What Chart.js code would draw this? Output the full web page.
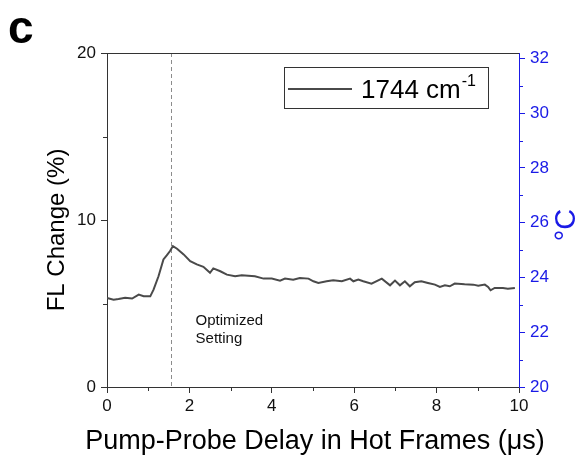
<!DOCTYPE html>
<html lang="en">
<head>
<meta charset="UTF-8">
<title>FL Change vs Pump-Probe Delay</title>
<style>
  html, body { margin: 0; padding: 0; background: #fff; }
  canvas { display: block; }
</style>
</head>
<body>
<canvas id="flChart" width="582" height="460"></canvas>
<script src="https://cdn.jsdelivr.net/npm/chart.js"></script>
<script>
// values
const delay = [0, 0.16, 0.28, 0.44, 0.61, 0.77, 0.89, 1.05, 1.13, 1.25,
  1.37, 1.45, 1.53, 1.6, 1.7, 1.86, 2.02, 2.18, 2.34, 2.5,
  2.58, 2.75, 2.91, 3.11, 3.27, 3.59, 3.8, 4.0, 4.2, 4.32,
  4.52, 4.68, 4.89, 5.01, 5.13, 5.33, 5.49, 5.7, 5.9, 5.98,
  6.1, 6.22, 6.42, 6.67, 6.87, 6.99, 7.11, 7.23, 7.35, 7.47,
  7.63, 7.79, 7.96, 8.08, 8.2, 8.32, 8.44, 8.68, 8.89, 9.01,
  9.17, 9.25, 9.31, 9.41, 9.61, 9.73, 9.9];
const flChange = [5.33, 5.23, 5.27, 5.35, 5.3, 5.53, 5.43, 5.43, 5.83, 6.63,
  7.64, 7.88, 8.14, 8.44, 8.28, 7.94, 7.54, 7.34, 7.2, 6.84,
  7.1, 6.93, 6.73, 6.63, 6.69, 6.63, 6.49, 6.49, 6.37, 6.49,
  6.43, 6.53, 6.49, 6.33, 6.23, 6.33, 6.39, 6.33, 6.49, 6.33,
  6.43, 6.33, 6.19, 6.49, 6.09, 6.37, 6.09, 6.33, 6.03, 6.27,
  6.33, 6.23, 6.13, 5.99, 6.09, 6.03, 6.19, 6.15, 6.13, 6.07,
  6.13, 5.99, 5.79, 5.93, 5.93, 5.89, 5.93];

const xTicks = [0, 2, 4, 6, 8, 10];
const xMinor = [1, 3, 5, 7, 9];
const leftTicks = [0, 10, 20];
const leftMinor = [5, 15];
const rightTicks = [20, 22, 24, 26, 28, 30, 32];
const rightMinor = [21, 23, 25, 27, 29, 31];

const optimizedDelay = 1.55;
const noteLines = ['Optimized', 'Setting'];
const legendText = '1744 cm';
const legendSup = '-1';

const FONT = '"Liberation Sans", Arial, sans-serif';
const AXIS = '#333';
const BLUE = '#1a1ae6';
const LINE = '#4a4a4a';

function fixTicks(list) {
  return function(scale) { scale.ticks = list.map(v => ({ value: v })); };
}

function seg(ctx, x1, y1, x2, y2) {
  ctx.beginPath(); ctx.moveTo(x1, y1); ctx.lineTo(x2, y2); ctx.stroke();
}

const decor = {
  id: 'decor',
  beforeDatasetsDraw(chart) {
    const { ctx, chartArea: a, scales } = chart;
    ctx.save();
    ctx.strokeStyle = '#8c8c8c';
    ctx.lineWidth = 1;
    ctx.setLineDash([4, 3]);
    const mx = Math.round(scales.x.getPixelForValue(optimizedDelay)) + 0.5;
    seg(ctx, mx, a.top, mx, a.bottom);
    ctx.restore();
  },
  afterDraw(chart) {
    const { ctx, chartArea: a, scales } = chart;
    const x = scales.x, y = scales.y, y2 = scales.y2;
    ctx.save();
    ctx.lineWidth = 1;

    // top frame
    ctx.strokeStyle = AXIS;
    seg(ctx, a.left, Math.round(a.top) + 0.5, a.right, Math.round(a.top) + 0.5);

    // minor ticks
    xMinor.forEach(v => {
      const px = Math.round(x.getPixelForValue(v)) + 0.5;
      seg(ctx, px, a.bottom, px, a.bottom + 4);
    });
    leftMinor.forEach(v => {
      const py = Math.round(y.getPixelForValue(v)) + 0.5;
      seg(ctx, a.left, py, a.left - 4, py);
    });
    ctx.strokeStyle = BLUE;
    rightMinor.forEach(v => {
      const py = Math.round(y2.getPixelForValue(v)) + 0.5;
      seg(ctx, a.right, py, a.right + 4, py);
    });

    // note text
    ctx.fillStyle = '#111';
    ctx.font = '15px ' + FONT;
    ctx.textAlign = 'left';
    ctx.textBaseline = 'alphabetic';
    const nx = x.getPixelForValue(2.15);
    const ny = y.getPixelForValue(3.7);
    noteLines.forEach((t, i) => ctx.fillText(t, nx, ny + i * 18));

    // legend box
    const lx = 284, ly = 67, lw = 204, lh = 41;
    ctx.strokeStyle = AXIS;
    ctx.strokeRect(lx + 0.5, ly + 0.5, lw, lh);
    ctx.strokeStyle = LINE;
    ctx.lineWidth = 2;
    seg(ctx, lx + 4, ly + 22, lx + 68, ly + 22);
    ctx.fillStyle = '#000';
    ctx.font = '26px ' + FONT;
    ctx.fillText(legendText, lx + 77, ly + 31);
    const tw = ctx.measureText(legendText).width;
    ctx.font = '16px ' + FONT;
    ctx.fillText(legendSup, lx + 78 + tw, ly + 19);

    // axis titles
    ctx.fillStyle = '#000';
    ctx.font = '27px ' + FONT;
    ctx.textAlign = 'center';
    ctx.textBaseline = 'middle';
    ctx.fillText('Pump-Probe Delay in Hot Frames (\u03bcs)', (a.left + a.right) / 2 + 2, 442);

    ctx.save();
    ctx.translate(57, 230);
    ctx.rotate(-Math.PI / 2);
    ctx.font = '24px ' + FONT;
    ctx.fillText('FL Change (%)', 0, 0);
    ctx.restore();

    ctx.save();
    ctx.translate(567, 225);
    ctx.rotate(-Math.PI / 2);
    ctx.fillStyle = BLUE;
    ctx.font = '29px ' + FONT;
    ctx.fillText('\u00b0C', 0, 0);
    ctx.restore();

    // panel letter
    ctx.fillStyle = '#000';
    ctx.font = 'bold 46px ' + FONT;
    ctx.textAlign = 'left';
    ctx.textBaseline = 'alphabetic';
    ctx.fillText('c', 8, 43);

    ctx.restore();
  }
};

const tickGrid = color => ({
  display: true,
  drawOnChartArea: false,
  drawTicks: true,
  tickLength: 6,
  tickColor: color,
  color: color
});

new Chart(document.getElementById('flChart').getContext('2d'), {
  type: 'line',
  data: {
    datasets: [{
      label: legendText,
      data: delay.map((d, i) => ({ x: d, y: flChange[i] })),
      borderColor: LINE,
      borderWidth: 2,
      pointRadius: 0,
      tension: 0,
      fill: false,
      yAxisID: 'y'
    }]
  },
  options: {
    responsive: false,
    animation: false,
    layout: { padding: { top: 53, left: 0, right: 0, bottom: 0 } },
    plugins: {
      legend: { display: false },
      tooltip: { enabled: false }
    },
    scales: {
      x: {
        type: 'linear',
        min: 0,
        max: 10,
        afterBuildTicks: fixTicks(xTicks),
        afterFit: s => { s.height = 73; },
        border: { color: AXIS, width: 1 },
        grid: tickGrid(AXIS),
        ticks: { color: '#111', font: { family: FONT, size: 17 }, padding: 3, maxRotation: 0 }
      },
      y: {
        position: 'left',
        min: 0,
        max: 20,
        afterBuildTicks: fixTicks(leftTicks),
        afterFit: s => { s.width = 107; },
        border: { color: AXIS, width: 1 },
        grid: tickGrid(AXIS),
        ticks: { color: '#111', font: { family: FONT, size: 17 }, padding: 5 }
      },
      y2: {
        position: 'right',
        min: 20,
        max: 32.2,
        afterBuildTicks: fixTicks(rightTicks),
        afterFit: s => { s.width = 63; },
        border: { color: BLUE, width: 1 },
        grid: tickGrid(BLUE),
        ticks: { color: BLUE, font: { family: FONT, size: 17 }, padding: 5 }
      }
    }
  },
  plugins: [decor]
});
</script>
</body>
</html>
